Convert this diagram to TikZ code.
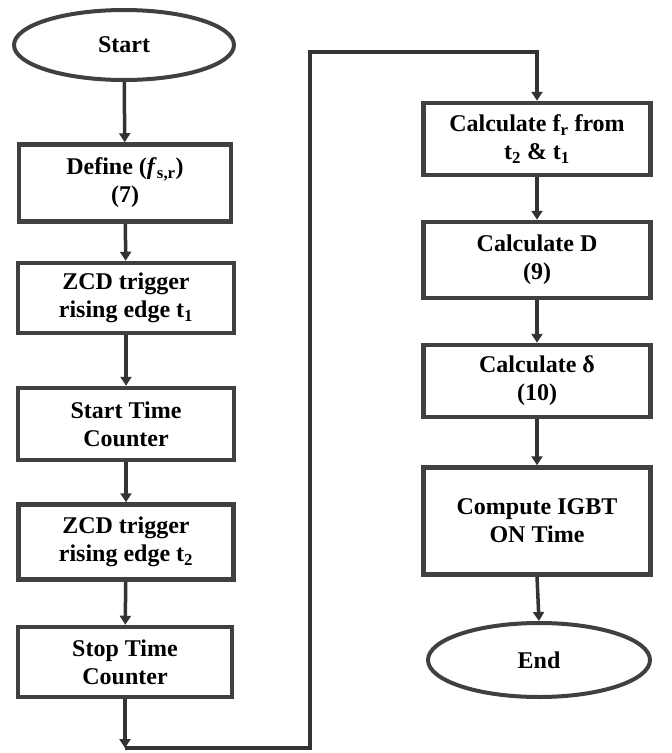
\documentclass[tikz,border=0pt]{standalone}
\usepackage{fontspec}
\setmainfont{Liberation Serif}
\usetikzlibrary{arrows.meta,shapes.geometric}
\begin{document}
\begin{tikzpicture}[x=1pt,y=-1pt,
  stepbox/.style={draw=black!75,line width=4.5pt,fill=white,rectangle,align=center,
    font=\fontsize{24}{28}\selectfont\bfseries,inner sep=0pt},
  term/.style={draw=black!75,line width=4pt,fill=white,ellipse,align=center,
    font=\fontsize{24}{28}\selectfont\bfseries,inner sep=0pt},
  conn/.style={draw=black!80,line width=3.5pt},
  arr/.style={conn,-{Triangle[length=9pt,width=11pt]}}]
\useasboundingbox (0,0) rectangle (672,753);
% left column
\node[term,minimum width=220pt,minimum height=70pt] (start) at (124,45) {Start};
\node[stepbox,minimum width=212pt,minimum height=77pt] (b1) at (125,183) {Define (\textit{f}\textsubscript{s,r})\\(7)};
\node[stepbox,minimum width=216pt,minimum height=70pt] (b2) at (126,298) {ZCD trigger\\rising edge t\textsubscript{1}};
\node[stepbox,minimum width=216pt,minimum height=72pt] (b3) at (126,424) {Start Time\\Counter};
\node[stepbox,minimum width=215pt,minimum height=75pt] (b4) at (126,542) {ZCD trigger\\rising edge t\textsubscript{2}};
\node[stepbox,minimum width=214pt,minimum height=70pt] (b5) at (125,662) {Stop Time\\Counter};
% right column
\node[stepbox,minimum width=227pt,minimum height=72pt] (b6) at (537,139) {Calculate f\textsubscript{r} from\\t\textsubscript{2} \& t\textsubscript{1}};
\node[stepbox,minimum width=227pt,minimum height=76pt] (b7) at (537,260) {Calculate D\\(9)};
\node[stepbox,minimum width=227pt,minimum height=72pt] (b8) at (537,381) {Calculate δ\\(10)};
\node[stepbox,minimum width=227pt,minimum height=107pt] (b9) at (537,521) {Compute IGBT\\ON Time};
\node[term,minimum width=222pt,minimum height=74pt] (end) at (539,660) {End};
% connector route
\coordinate (c1) at (125,748);
\coordinate (c2) at (310,748);
\coordinate (c3) at (310,52);
\coordinate (c4) at (537,52);
% arrows
\draw[arr] (start) -- (b1);
\draw[arr] (b1) -- (b2);
\draw[arr] (b2) -- (b3);
\draw[arr] (b3) -- (b4);
\draw[arr] (b4) -- (b5);
\draw[arr] (b5) -- (c1);
\draw[arr] (c1) -- (c2) -- (c3) -- (c4) -- (b6);
\draw[arr] (b6) -- (b7);
\draw[arr] (b7) -- (b8);
\draw[arr] (b8) -- (b9);
\draw[arr] (b9.south) -- (end.north);
\end{tikzpicture}
\end{document}
